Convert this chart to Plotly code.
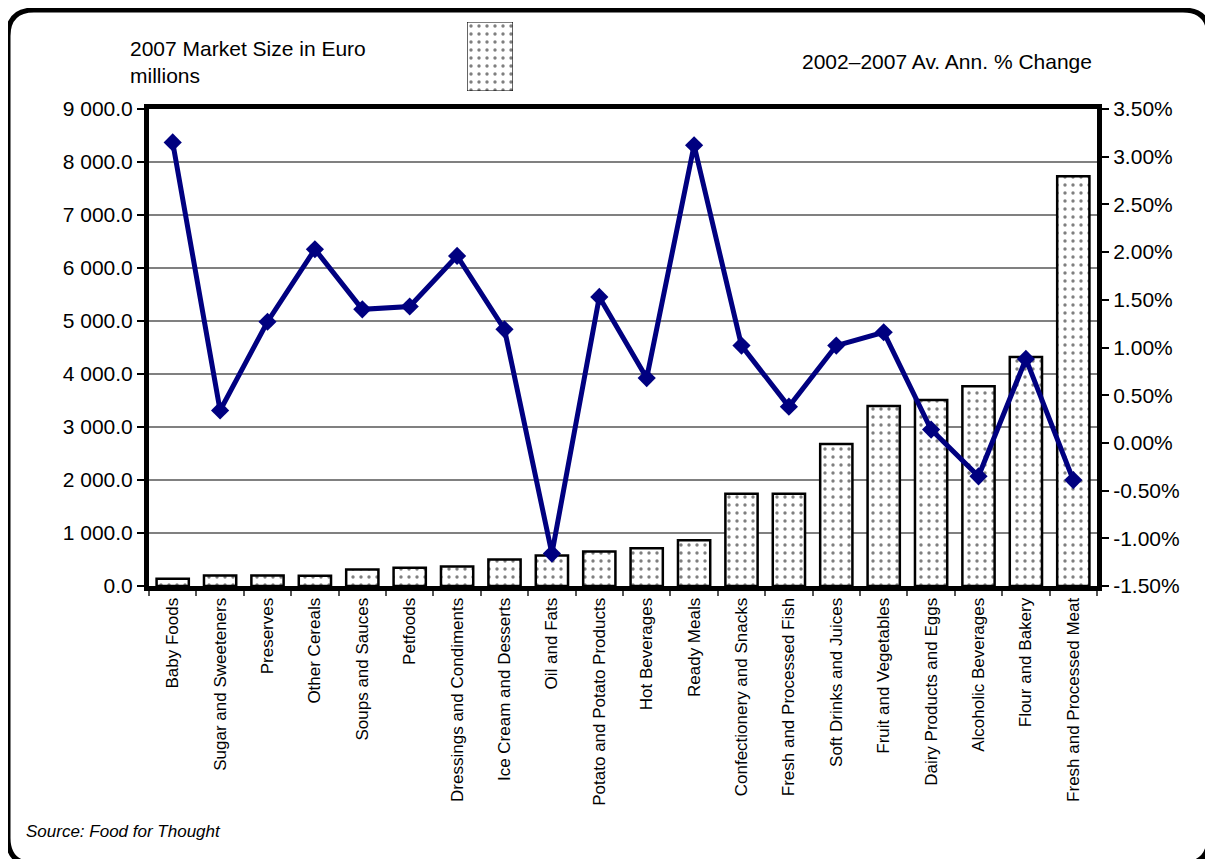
import plotly.graph_objects as go

categories = [
    "Baby Foods", "Sugar and Sweeteners", "Preserves", "Other Cereals",
    "Soups and Sauces", "Petfoods", "Dressings and Condiments",
    "Ice Cream and Desserts", "Oil and Fats", "Potato and Potato Products",
    "Hot Beverages", "Ready Meals", "Confectionery and Snacks",
    "Fresh and Processed Fish", "Soft Drinks and Juices",
    "Fruit and Vegetables", "Dairy Products and Eggs", "Alcoholic Beverages",
    "Flour and Bakery", "Fresh and Processed Meat",
]
market_size = [
    135, 200, 200, 195, 310, 345, 370, 500, 575, 650,
    710, 865, 1740, 1740, 2680, 3395, 3510, 3770, 4320, 7730,
]
pct_change = [
    3.15, 0.34, 1.27, 2.03, 1.40, 1.43, 1.96, 1.19, -1.16, 1.53,
    0.68, 3.12, 1.02, 0.38, 1.02, 1.16, 0.14, -0.35, 0.88, -0.39,
]
left_ticks = [0, 1000, 2000, 3000, 4000, 5000, 6000, 7000, 8000, 9000]
right_ticks = [-1.5, -1.0, -0.5, 0.0, 0.5, 1.0, 1.5, 2.0, 2.5, 3.0, 3.5]
left_ticktext = [f"{v:,.1f}".replace(",", " ") for v in left_ticks]
right_ticktext = [f"{v:.2f}%" for v in right_ticks]

bar_legend = "2007 Market Size in Euro<br>millions"
line_legend = "2002\u20132007 Av. Ann. % Change"
source_text = "Source: Food for Thought"

# page offset (body margin) and figure size so the page fits the window
OFF = 8
W, H = 1213 - 2 * OFF, 867 - 2 * OFF
ML, MR, MT, MB = 0, 0, 0, 0
PW, PH = W - ML - MR, H - MT - MB


def px(x):
    return (x - OFF - ML) / PW


def py(y):
    return (H - MB - (y - OFF)) / PH


FONT = "Liberation Sans, Arial, sans-serif"
DOTS = dict(shape=".", fgcolor="black", bgcolor="white", size=8, solidity=0.14)

fig = go.Figure()

fig.add_trace(go.Bar(
    x=categories, y=market_size, width=0.68,
    marker=dict(color="white", line=dict(color="black", width=2.5),
                pattern=DOTS),
    xaxis="x", yaxis="y", showlegend=False,
))

fig.add_trace(go.Scatter(
    x=categories, y=pct_change, mode="lines+markers",
    line=dict(color="#000080", width=5),
    marker=dict(symbol="diamond", size=14, color="#000080"),
    xaxis="x", yaxis="y2", showlegend=False,
))

# legend swatch for bars
fig.add_trace(go.Bar(
    x=[0], y=[1], width=1,
    marker=dict(color="white", line=dict(color="black", width=1.2),
                pattern=DOTS),
    xaxis="x3", yaxis="y3", showlegend=False, hoverinfo="skip",
))

x_dom = [px(149), px(1097)]
y_dom = [py(586), py(109)]

fig.update_layout(
    width=W, height=H,
    margin=dict(l=ML, r=MR, t=MT, b=MB, autoexpand=False),
    paper_bgcolor="white", plot_bgcolor="white",
    font=dict(family=FONT, color="black", size=21),
    showlegend=False,
    bargap=0.32,
    xaxis=dict(
        domain=x_dom, type="category", range=[-0.5, len(categories) - 0.5],
        autorange=False, automargin=False,
        showline=True, linecolor="black", linewidth=5, mirror=True,
        ticks="outside", tickson="boundaries", ticklen=5, tickwidth=1.5,
        tickcolor="#555555",
        tickangle=-90, tickfont=dict(size=17, family=FONT),
        showgrid=False, zeroline=False,
    ),
    yaxis=dict(
        domain=y_dom, range=[0, 9000], automargin=False,
        tickmode="array", tickvals=left_ticks, ticktext=left_ticktext,
        showline=True, linecolor="black", linewidth=5,
        ticks="outside", ticklen=7, tickwidth=1.5, tickcolor="black",
        showgrid=True, gridcolor="#808080", gridwidth=1.8,
        zeroline=False, tickfont=dict(size=21),
    ),
    yaxis2=dict(
        overlaying="y", side="right", range=[-1.5, 3.5], automargin=False,
        tickmode="array", tickvals=right_ticks, ticktext=right_ticktext,
        showline=True, linecolor="black", linewidth=5,
        ticks="outside", ticklen=7, tickwidth=1.5, tickcolor="black",
        showgrid=False, zeroline=False, tickfont=dict(size=21),
        anchor="x",
    ),
    xaxis3=dict(domain=[px(467), px(513)], range=[-0.5, 0.5],
                visible=False, anchor="y3", fixedrange=True),
    yaxis3=dict(domain=[py(91), py(22)], range=[0, 1],
                visible=False, anchor="x3", fixedrange=True),
)

fig.add_annotation(
    xref="paper", yref="paper", x=px(128), y=py(62),
    xanchor="left", yanchor="middle", align="left",
    text=bar_legend, showarrow=False, font=dict(size=21),
)
fig.add_annotation(
    xref="paper", yref="paper", x=px(1094), y=py(61),
    xanchor="right", yanchor="middle",
    text=line_legend, showarrow=False, font=dict(size=21),
)
fig.add_annotation(
    xref="paper", yref="paper", x=px(24), y=py(831),
    xanchor="left", yanchor="middle",
    text=f"<i>{source_text}</i>", showarrow=False, font=dict(size=17),
)

# rounded outer border
L, R, T, B, r = 8, 1209, 10, 864, 26
pts = [
    ("M", px(L), py(T + r)),
    ("Q", px(L), py(T), px(L + r), py(T)),
    ("L", px(R - r), py(T)),
    ("Q", px(R), py(T), px(R), py(T + r)),
    ("L", px(R), py(B - r)),
    ("Q", px(R), py(B), px(R - r), py(B)),
    ("L", px(L + r), py(B)),
    ("Q", px(L), py(B), px(L), py(B - r)),
]
path = ""
for p in pts:
    cmd = p[0]
    coords = p[1:]
    pairs = [f"{coords[i]:.5f},{coords[i+1]:.5f}" for i in range(0, len(coords), 2)]
    path += cmd + " ".join(pairs) + " "
path += "Z"
fig.add_shape(type="path", xref="paper", yref="paper", path=path,
              line=dict(color="black", width=5), fillcolor="rgba(0,0,0,0)")

fig.write_html("out.html")
